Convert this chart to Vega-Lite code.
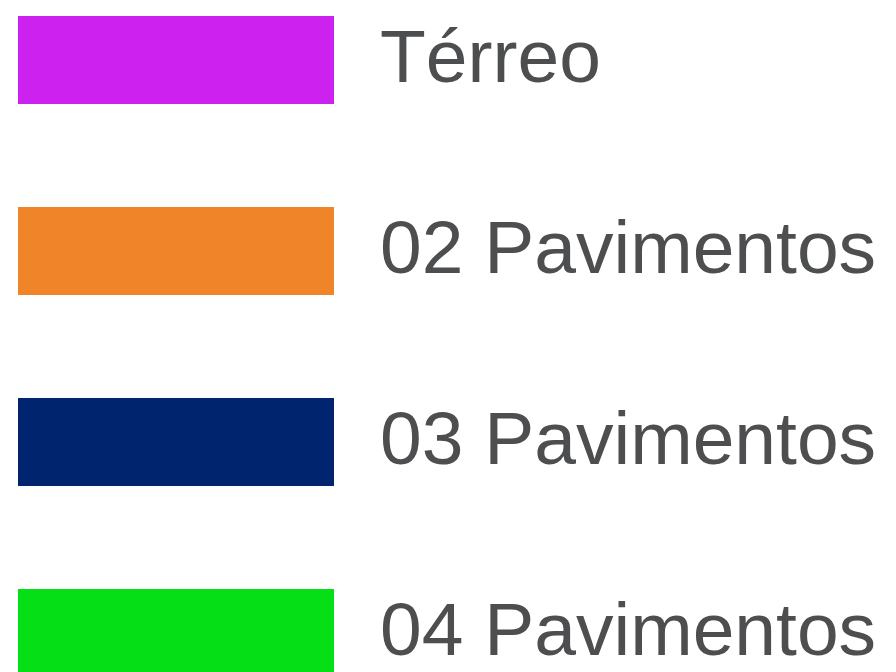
{
  "$schema": "https://vega.github.io/schema/vega-lite/v6.json",
  "autosize": {"type": "fit", "contains": "padding"},
  "width": 896,
  "height": 672,
  "padding": 0,
  "background": "white",
  "config": {"view": {"stroke": null}},
  "data": {
    "values": [
      {"label": "Térreo", "order": 1},
      {"label": "02 Pavimentos", "order": 2},
      {"label": "03 Pavimentos", "order": 3},
      {"label": "04 Pavimentos", "order": 4}
    ]
  },
  "encoding": {
    "y": {
      "field": "label",
      "type": "nominal",
      "sort": {"field": "order"},
      "scale": {"range": [16, 677], "paddingInner": 0.5393, "paddingOuter": 0},
      "axis": null
    }
  },
  "layer": [
    {
      "mark": {"type": "rect"},
      "encoding": {
        "x": {"datum": 18, "type": "quantitative", "scale": {"domain": [0, 896], "range": [0, 896], "nice": false, "zero": false}, "axis": null},
        "x2": {"datum": 334},
        "color": {
          "field": "label",
          "type": "nominal",
          "scale": {
            "domain": ["Térreo", "02 Pavimentos", "03 Pavimentos", "04 Pavimentos"],
            "range": ["#cd22ef", "#ef8429", "#00246e", "#05df15"]
          },
          "legend": null
        }
      }
    },
    {
      "mark": {"type": "text", "align": "left", "baseline": "alphabetic", "dy": 22, "font": "Liberation Sans", "fontSize": 75, "color": "#4d4e50"},
      "encoding": {
        "x": {"datum": 380, "type": "quantitative"},
        "text": {"field": "label"}
      }
    }
  ]
}
